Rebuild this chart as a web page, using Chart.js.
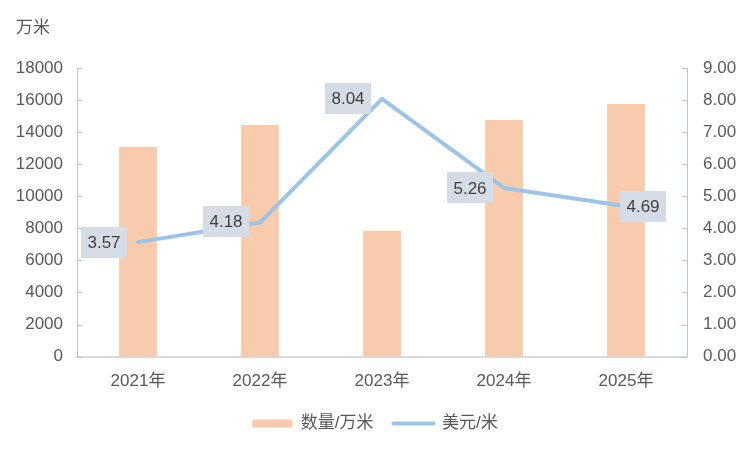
<!DOCTYPE html>
<html>
<head>
<meta charset="utf-8">
<script src="https://cdn.jsdelivr.net/npm/chart.js@4/dist/chart.umd.min.js"></script>
<style>
html,body{margin:0;padding:0;background:#fff;}
#wrap{width:750px;height:450px;position:relative;}
</style>
</head>
<body>
<div id="wrap"><canvas id="c" width="750" height="450"></canvas></div>
<script>
const categories = ['2021年','2022年','2023年','2024年','2025年'];
const quantity = [13080, 14450, 7850, 14760, 15760];
const price = [3.57, 4.18, 8.04, 5.26, 4.69];
const priceLabels = ['3.57','4.18','8.04','5.26','4.69'];
const leftTicks = [0,2000,4000,6000,8000,10000,12000,14000,16000,18000];
const rightTicks = [0,1,2,3,4,5,6,7,8,9];

const FONT = '"Liberation Sans", "Noto Sans CJK SC", sans-serif';
const TXT = '#595959';
const AXIS_BLUE = '#A9C8E8';

// label placement: dx, dy from point to box centre
const labelOffsets = [[-34,0],[-34,-1.5],[-34,0],[-34,0],[17,0]];

const extras = {
  id: 'extras',
  afterDatasetsDraw(chart) {
    const ctx = chart.ctx;
    const meta = chart.getDatasetMeta(1);
    ctx.save();
    ctx.font = '17px ' + FONT;
    ctx.textAlign = 'center';
    ctx.textBaseline = 'middle';
    meta.data.forEach((pt, i) => {
      const cx = pt.x + labelOffsets[i][0];
      const cy = pt.y + labelOffsets[i][1];
      ctx.fillStyle = '#D6DCE5';
      ctx.fillRect(Math.round(cx - 23), Math.round(cy - 15.5), 46, 31);
      ctx.fillStyle = '#404040';
      ctx.fillText(priceLabels[i], cx, cy + 1);
    });
    ctx.restore();
  },
  afterDraw(chart) {
    const ctx = chart.ctx;
    const yl = chart.scales.y, yr = chart.scales.y1;
    ctx.save();
    ctx.strokeStyle = AXIS_BLUE;
    ctx.lineWidth = 1;
    leftTicks.forEach(v => {
      const y = Math.round(yl.getPixelForValue(v)) + 0.5;
      ctx.beginPath(); ctx.moveTo(yl.right, y); ctx.lineTo(yl.right + 5, y); ctx.stroke();
    });
    rightTicks.forEach(v => {
      const y = Math.round(yr.getPixelForValue(v)) + 0.5;
      ctx.beginPath(); ctx.moveTo(yr.left, y); ctx.lineTo(yr.left - 5, y); ctx.stroke();
    });
    ctx.fillStyle = TXT;
    ctx.font = '17px ' + FONT;
    ctx.textBaseline = 'middle';
    ctx.fillText('万米', 16, 28);
    ctx.restore();
  }
};

new Chart(document.getElementById('c'), {
  data: {
    labels: categories,
    datasets: [
      {
        type: 'bar',
        label: '数量/万米',
        data: quantity,
        backgroundColor: '#F8CBAD',
        borderWidth: 0,
        yAxisID: 'y',
        barPercentage: 0.31,
        categoryPercentage: 1,
        order: 2
      },
      {
        type: 'line',
        label: '美元/米',
        data: price,
        borderColor: '#9DC3E6',
        backgroundColor: '#9DC3E6',
        borderWidth: 4,
        pointRadius: 0,
        tension: 0,
        borderCapStyle: 'round',
        borderJoinStyle: 'round',
        yAxisID: 'y1',
        order: 1
      }
    ]
  },
  options: {
    responsive: false,
    animation: false,
    layout: { padding: { top: 68, left: 0, right: 0, bottom: 8 } },
    plugins: {
      legend: {
        position: 'bottom',
        reverse: true,
        labels: {
          usePointStyle: true,
          pointStyleWidth: 40,
          boxHeight: 8,
          color: TXT,
          font: { family: FONT, size: 17 },
          padding: 20,
          generateLabels(chart) {
            const items = Chart.defaults.plugins.legend.labels.generateLabels(chart);
            items.forEach(it => {
              if (it.datasetIndex === 0) { it.pointStyle = 'rect'; it.lineWidth = 0; }
              else { it.pointStyle = 'line'; it.lineWidth = 4; it.lineCap = 'round'; }
            });
            return items;
          }
        }
      },
      tooltip: { enabled: false }
    },
    scales: {
      x: {
        grid: { display: false, drawTicks: false },
        border: { display: true, color: '#D9D9D9', width: 2 },
        ticks: { color: TXT, font: { family: FONT, size: 17 }, padding: 15, maxRotation: 0 },
        afterFit(s) { s.height = s.height - 12; }
      },
      y: {
        position: 'left',
        min: 0, max: 18000,
        afterBuildTicks(s) { s.ticks = leftTicks.map(v => ({ value: v })); },
        afterFit(s) { s.width = 77; },
        grid: { display: false, drawTicks: false },
        border: { display: true, color: AXIS_BLUE, width: 1 },
        ticks: { color: TXT, font: { family: FONT, size: 17 }, padding: 14, callback: v => String(v) }
      },
      y1: {
        position: 'right',
        min: 0, max: 9,
        afterBuildTicks(s) { s.ticks = rightTicks.map(v => ({ value: v })); },
        afterFit(s) { s.width = 63; },
        grid: { display: false, drawTicks: false },
        border: { display: true, color: AXIS_BLUE, width: 1 },
        ticks: { color: TXT, font: { family: FONT, size: 17 }, padding: 16, callback: v => Number(v).toFixed(2) }
      }
    }
  },
  plugins: [extras]
});
</script>
</body>
</html>
